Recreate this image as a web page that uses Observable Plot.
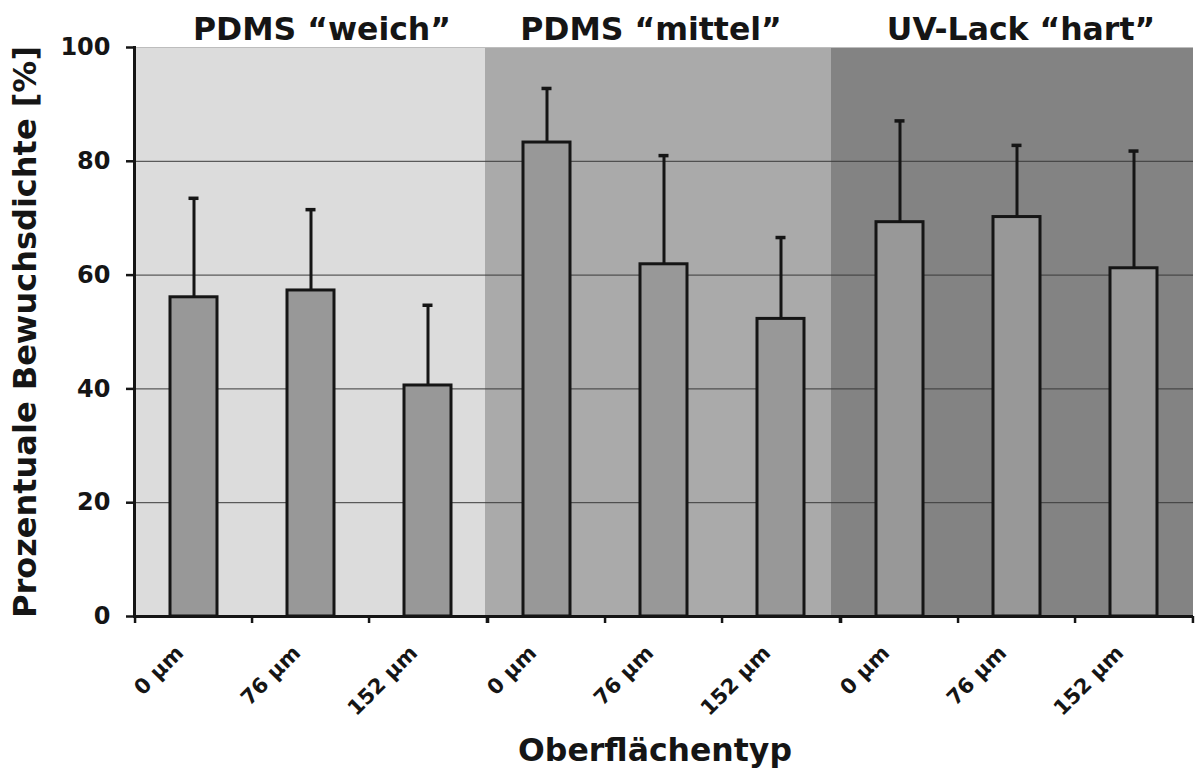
<!DOCTYPE html>
<html>
<head>
<meta charset="utf-8">
<script src="https://cdn.jsdelivr.net/npm/d3@7"></script>
<script src="https://cdn.jsdelivr.net/npm/@observablehq/plot@0.6"></script>
<style>
  html, body { margin: 0; padding: 0; background: #fff; }
  #chart svg { display: block; }
</style>
</head>
<body>
<div id="chart"></div>
<script>
// Surface types (panels) and structure sizes (categories)
const groups = ["PDMS \u201cweich\u201d", "PDMS \u201cmittel\u201d", "UV-Lack \u201chart\u201d"];
const thicknesses = ["0 µm", "76 µm", "152 µm"];
// Mean fouling density [%] per bar, in order weich(0,76,152), mittel(...), hart(...)
const means = [56.1, 57.3, 40.6, 83.3, 61.9, 52.3, 69.3, 70.2, 61.2];
// Upper end of the error bar [%]
const uppers = [73.5, 71.5, 54.7, 92.8, 81.0, 66.6, 87.1, 82.8, 81.8];
const yTicks = [0, 20, 40, 60, 80, 100];
const gridTicks = [20, 40, 60, 80];
const panelFills = ["#dcdcdc", "#aaaaaa", "#838383"];
const yTitle = "Prozentuale Bewuchsdichte [%]";
const xTitle = "Oberflächentyp";

const data = groups.flatMap((g, i) =>
  thicknesses.map((t, j) => ({g, t, mean: means[i * 3 + j], upper: uppers[i * 3 + j]}))
);

const W = 1197, H = 769, ML = 133, MR = 3, MT = 47, MB = 153;
const step = (W - ML - MR) / (groups.length * thicknesses.length);
const ink = "#151515";

const panelInsets = [0, -2, -9];
const titleDx = [11, -13, 4];

const chart = Plot.plot({
  width: W, height: H,
  marginTop: MT, marginLeft: ML, marginRight: MR, marginBottom: MB,
  style: {fontFamily: "DejaVu Sans", color: ink, background: "#fff", overflow: "visible"},
  fx: {domain: groups, padding: 0, axis: null, label: null},
  x: {domain: thicknesses, paddingInner: 0.6, paddingOuter: 0.3, axis: null, label: null},
  y: {domain: [0, 100], axis: null, label: null},
  marks: [
    ...groups.map((g, i) => Plot.barY([g], {fx: d => d, y1: 0, y2: 100, fill: panelFills[i], insetLeft: panelInsets[i]})),
    Plot.ruleY([100], {stroke: "#bdbdbd", strokeWidth: 1}),
    Plot.gridY(gridTicks, {stroke: "#3a3a3a", strokeOpacity: 1, strokeWidth: 1}),
    Plot.barY(data, {fx: "g", x: "t", y: "mean", fill: "#989898", stroke: ink, strokeWidth: 3}),
    Plot.ruleX(data, {fx: "g", x: "t", y1: "mean", y2: "upper", stroke: ink, strokeWidth: 3}),
    Plot.tickY(data, {fx: "g", x: "t", y: "upper", stroke: ink, strokeWidth: 3.5, insetLeft: 18.5, insetRight: 18.5}),
    Plot.ruleY([0], {stroke: ink, strokeWidth: 3}),
    Plot.frame({anchor: "left", facetAnchor: "left", stroke: ink, strokeWidth: 3}),
    Plot.axisY({ticks: yTicks, tickSize: 8, tickPadding: 16, fontSize: 24, fontWeight: "bold", stroke: ink, strokeWidth: 2.5, label: null}),
    Plot.axisX({ticks: thicknesses, fill: "none", tickSize: 7, stroke: ink, strokeWidth: 2.5, dx: -step / 2, label: null}),
    Plot.axisX({ticks: [thicknesses[2]], fill: "none", tickSize: 7, stroke: ink, strokeWidth: 2.5, dx: step / 2, label: null}),
    Plot.axisX({ticks: thicknesses, tickSize: 0, tickPadding: 0, tickRotate: -45, fontSize: 21, fontWeight: "bold", dx: -14, dy: 33, label: null}),
    ...groups.map((g, i) => Plot.text([g], {fx: d => d, text: d => d, frameAnchor: "top", lineAnchor: "bottom", dy: -8, dx: titleDx[i], fontSize: 31.5, fontWeight: "bold", fill: ink})),
    Plot.text([xTitle], {facet: "super", text: d => d, frameAnchor: "bottom", lineAnchor: "bottom", dy: 144, dx: -9, fontSize: 31.5, fontWeight: "bold", fill: ink}),
    Plot.text([yTitle], {facet: "super", text: d => d, frameAnchor: "left", rotate: -90, lineAnchor: "bottom", textAnchor: "middle", dx: -99, fontSize: 32, fontWeight: "bold", fill: ink})
  ]
});
document.getElementById("chart").appendChild(chart);
</script>
</body>
</html>
